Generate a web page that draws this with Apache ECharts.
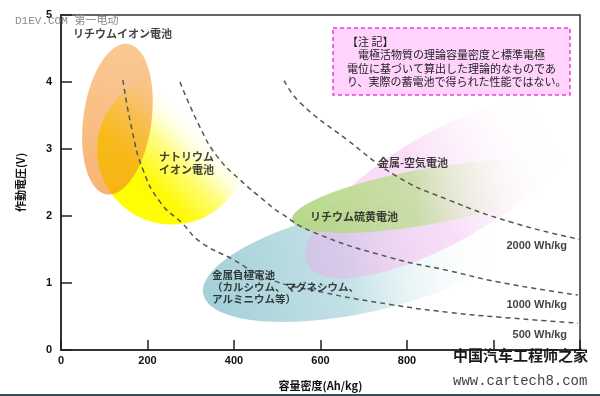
<!DOCTYPE html>
<html>
<head>
<meta charset="utf-8">
<title>電池の理論エネルギー密度</title>
<script src="https://cdn.jsdelivr.net/npm/echarts@6/dist/echarts.min.js"></script>
<style>
html, body { margin: 0; padding: 0; background: #fff; }
#chart { width: 600px; height: 396px; }
</style>
</head>
<body>
<div id="chart"></div>
<script>
// 軸の目盛
var xTicks = [0, 200, 400, 600, 800, 1000, 1200];
var yTicks = [0, 1, 2, 3, 4, 5];

// 等エネルギー密度線 [容量密度(Ah/kg), 電圧(V)] 図から読み取り
var line500 = [[143, 4.03], [164, 3.29], [189, 2.70], [229, 2.21], [282, 1.88], [321, 1.62], [398, 1.35],
	[476, 1.07], [606, 0.86], [761, 0.68], [899, 0.56], [1015, 0.49], [1195, 0.40]];
var line1000 = [[275, 4.00], [321, 3.33], [361, 2.89], [414, 2.54], [472, 2.22], [506, 2.05], [583, 1.76],
	[761, 1.38], [899, 1.18], [1015, 1.01], [1195, 0.82]];
var line2000 = [[516, 4.02], [553, 3.69], [661, 3.14], [777, 2.59], [892, 2.25], [1045, 1.90], [1200, 1.65]];
var lineNames = ['2000 Wh/kg', '1000 Wh/kg', '500 Wh/kg'];
// 線ラベルの位置（右端）
var lineLabelAt = [[1170, 1.56], [1170, 0.67], [1170, 0.22]];

// 電池の領域：中心、長軸の端点、短軸の端点
var regionNames = ['金属負極電池\n（カルシウム、マグネシウム、\nアルミニウム等）', '金属-空気電池', 'リチウム硫黄電池',
	'ナトリウム\nイオン電池', 'リチウムイオン電池'];
var regionCenter = [[691.3, 1.324], [887.9, 2.440], [848.6, 2.292], [256.6, 2.991], [130.6, 3.445]];
var regionMajor = [[1053.2, 1.820], [1204.2, 3.616], [1162.8, 2.649], [379.2, 3.780], [154.9, 4.568]];
var regionMinor = [[716.3, 0.567], [951.4, 1.732], [859.9, 1.881], [379.2, 2.202], [208.6, 3.375]];
// 領域名の位置（左上）
var regionLabelAt = [[349, 1.205], [733, 2.89], [576, 2.08], [226.6, 2.98], [27.7, 4.82]];

var noteLines = ['【注 記】', '　電極活物質の理論容量密度と標準電極', '電位に基づいて算出した理論的なものであ', 'り、実際の蓄電池で得られた性能ではない。'];

var LG = echarts.graphic.LinearGradient;
var regionFills = [
	new LG(0, 0, 1, 0, [
		{offset: 0, color: 'rgba(163,208,215,1)'},
		{offset: 0.45, color: 'rgba(188,222,228,0.9)'},
		{offset: 0.92, color: 'rgba(255,255,255,0)'}]),
	new LG(0, 0, 1, 0, [
		{offset: 0, color: 'rgba(240,165,235,0.42)'},
		{offset: 0.45, color: 'rgba(246,190,241,0.5)'},
		{offset: 0.88, color: 'rgba(255,255,255,0)'}]),
	new LG(0, 0, 1, 0, [
		{offset: 0, color: 'rgba(178,214,130,0.95)'},
		{offset: 0.45, color: 'rgba(192,222,150,0.8)'},
		{offset: 0.9, color: 'rgba(255,255,255,0)'}]),
	new LG(0, 0, 1, 0, [
		{offset: 0, color: '#ffff00'},
		{offset: 0.25, color: '#fffa08'},
		{offset: 0.5, color: 'rgba(255,253,140,1)'},
		{offset: 0.75, color: 'rgba(255,255,255,0)'}]),
	new LG(0, 0, 1, 0, [
		{offset: 0, color: 'rgba(240,135,30,0.62)'},
		{offset: 1, color: 'rgba(246,150,50,0.52)'}])
];

var FONT = '"Liberation Sans", "Noto Sans CJK JP", sans-serif';
var JP = '"Noto Sans CJK JP", sans-serif';

function renderRegion(params, api) {
	var c = api.coord([api.value(0), api.value(1)]);
	var v = api.coord([api.value(2), api.value(3)]);
	var w = api.coord([api.value(4), api.value(5)]);
	var rx = Math.sqrt(Math.pow(v[0] - c[0], 2) + Math.pow(v[1] - c[1], 2));
	var ry = Math.sqrt(Math.pow(w[0] - c[0], 2) + Math.pow(w[1] - c[1], 2));
	var ang = Math.atan2(v[1] - c[1], v[0] - c[0]);
	return {
		type: 'ellipse',
		x: c[0],
		y: c[1],
		rotation: -ang,
		shape: {cx: 0, cy: 0, rx: rx, ry: ry},
		style: {fill: regionFills[params.dataIndex]}
	};
}

var regionData = [];
for (var i = 0; i < regionCenter.length; i++) {
	regionData.push(regionCenter[i].concat(regionMajor[i]).concat(regionMinor[i]));
}

var labelData = [];
for (var i = 0; i < regionNames.length; i++) {
	labelData.push({
		value: regionLabelAt[i],
		label: {
			formatter: regionNames[i],
			align: 'left', verticalAlign: 'top',
			fontFamily: JP, fontWeight: 'bold',
			fontSize: i == 0 ? 10.5 : 11,
			lineHeight: i == 0 ? 12 : 13
		}
	});
}
for (var i = 0; i < lineNames.length; i++) {
	labelData.push({
		value: lineLabelAt[i],
		label: {
			formatter: lineNames[i],
			align: 'right', verticalAlign: 'middle',
			fontFamily: FONT, fontWeight: 'bold', fontSize: 11
		}
	});
}

var dash = {color: '#555', width: 1.5, type: [5, 4]};
function energyLine(name, data) {
	return {
		name: name, type: 'line', data: data, smooth: true, showSymbol: false,
		symbol: 'none', lineStyle: dash, z: 3, silent: true
	};
}

var graphics = [
	{
		type: 'rect', shape: {x: 333, y: 28, width: 237, height: 67}, z: 10,
		style: {fill: '#ffd3fc', stroke: '#f03ce0', lineWidth: 1.5, lineDash: [4, 3]}
	}
];
// 注記の文
for (var i = 0; i < noteLines.length; i++) {
	graphics.push({
		type: 'text', x: 347, y: 36 + i * 13.5, z: 11,
		style: {text: noteLines[i], fill: '#222', font: '11px ' + JP}
	});
}
graphics.push(
	{
		type: 'text', x: 15, y: 16, z: 12,
		style: {text: 'D1EV.COM 第一电动', fill: '#8a8a8a', font: '11px "Liberation Mono", "Noto Sans CJK SC", monospace'}
	},
	{
		type: 'text', x: 453, y: 348, z: 12,
		style: {text: '中国汽车工程师之家', fill: '#1a1a1a', font: 'bold 15px "Noto Sans CJK SC", sans-serif'}
	},
	{
		type: 'text', x: 453, y: 374, z: 12,
		style: {text: 'www.cartech8.com', fill: '#444', font: '14px "Liberation Mono", monospace'}
	},
	{
		type: 'rect', shape: {x: 0, y: 394, width: 600, height: 2}, z: 12,
		style: {fill: '#3b4a5c'}
	}
);

var chart = echarts.init(document.getElementById('chart'), null, {renderer: 'canvas'});
chart.setOption({
	animation: false,
	backgroundColor: '#fff',
	grid: {left: 61, top: 15, right: 20, bottom: 45, show: true, borderColor: '#333', borderWidth: 1.5},
	xAxis: {
		type: 'value', min: xTicks[0], max: xTicks[xTicks.length - 1], interval: 200,
		name: '容量密度(Ah/kg)', nameLocation: 'middle', nameGap: 30,
		nameTextStyle: {fontFamily: JP, fontWeight: 'bold', fontSize: 11, color: '#111'},
		axisLine: {lineStyle: {color: '#333', width: 2}},
		axisTick: {inside: true, length: 10, lineStyle: {color: '#222', width: 1.5}},
		axisLabel: {
			margin: 5, color: '#111', fontFamily: FONT, fontWeight: 'bold', fontSize: 11,
			formatter: function (v) { return v >= 1000 ? '' : v; }
		},
		splitLine: {show: false}
	},
	yAxis: {
		type: 'value', min: yTicks[0], max: yTicks[yTicks.length - 1], interval: 1,
		name: '作動電圧(V)', nameLocation: 'middle', nameGap: 35,
		nameTextStyle: {fontFamily: JP, fontWeight: 'bold', fontSize: 11, color: '#111'},
		axisLine: {lineStyle: {color: '#333', width: 2}},
		axisTick: {inside: true, length: 11, lineStyle: {color: '#222', width: 1.5}},
		axisLabel: {margin: 9, color: '#111', fontFamily: FONT, fontWeight: 'bold', fontSize: 11},
		splitLine: {show: false}
	},
	series: [
		{type: 'custom', renderItem: renderRegion, data: regionData, z: 1, silent: true},
		energyLine(lineNames[0], line2000),
		energyLine(lineNames[1], line1000),
		energyLine(lineNames[2], line500),
		{
			type: 'scatter', symbolSize: 0, data: labelData, z: 5, silent: true,
			label: {show: true, position: [0, 0], color: '#111'}
		}
	],
	graphic: graphics
});
</script>
</body>
</html>
